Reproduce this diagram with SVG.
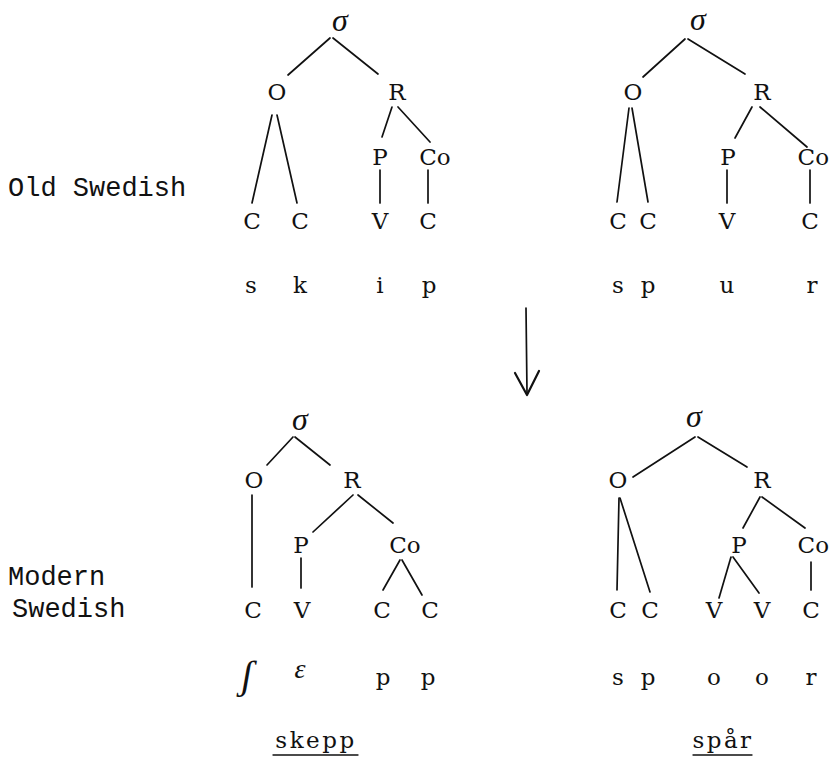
<svg xmlns="http://www.w3.org/2000/svg" width="830" height="758" viewBox="0 0 830 758">
<style>
.n{font-family:"DejaVu Serif",serif;font-size:23px;text-anchor:middle;fill:#111}
.s{font-family:"DejaVu Serif",serif;font-size:23px;text-anchor:middle;fill:#111}
.sig{font-family:"Liberation Serif",serif;font-style:italic;font-size:32px;text-anchor:middle;fill:#111}
.lbl{font-family:"Liberation Mono",monospace;font-size:27px;fill:#111}
.w{font-family:"DejaVu Serif",serif;font-size:23px;letter-spacing:2.5px;text-anchor:middle;fill:#111}
#edges line{stroke:#111;stroke-width:1.7;stroke-linecap:round;fill:none}
#edges path{stroke:#111;stroke-width:2.2;stroke-linecap:round;stroke-linejoin:round;fill:none}
</style>
<rect width="830" height="758" fill="#fff"/>

<g id="labels">
<text class="lbl" x="8" y="196">Old Swedish</text>
<text class="lbl" x="8" y="585">Modern</text>
<text class="lbl" x="12" y="617">Swedish</text>
</g>

<g id="edges">
<!-- top-left -->
<line x1="330" y1="38" x2="288" y2="75"/>
<line x1="333" y1="38" x2="378" y2="74"/>
<line x1="272" y1="115" x2="252" y2="203"/>
<line x1="277" y1="115" x2="297" y2="203"/>
<line x1="392" y1="107" x2="382" y2="137"/>
<line x1="398" y1="107" x2="430" y2="142"/>
<line x1="380" y1="170" x2="380" y2="203"/>
<line x1="428" y1="170" x2="428" y2="203"/>
<!-- top-right -->
<line x1="685" y1="39" x2="643" y2="77"/>
<line x1="688" y1="39" x2="745" y2="74"/>
<line x1="629" y1="108" x2="617" y2="202"/>
<line x1="632" y1="108" x2="648" y2="202"/>
<line x1="752" y1="107" x2="735" y2="138"/>
<line x1="760" y1="107" x2="807" y2="147"/>
<line x1="727" y1="170" x2="727" y2="203"/>
<line x1="810" y1="170" x2="810" y2="203"/>
<!-- arrow -->
<line x1="526" y1="308" x2="527" y2="393"/>
<path d="M515 373 L527 395 L539 371"/>
<!-- bottom-left -->
<line x1="293" y1="437" x2="267" y2="465"/>
<line x1="295" y1="437" x2="330" y2="465"/>
<line x1="252" y1="495" x2="252" y2="587"/>
<line x1="353" y1="495" x2="313" y2="532"/>
<line x1="358" y1="495" x2="393" y2="523"/>
<line x1="301" y1="558" x2="301" y2="588"/>
<line x1="400" y1="560" x2="383" y2="590"/>
<line x1="402" y1="560" x2="422" y2="595"/>
<!-- bottom-right -->
<line x1="695" y1="437" x2="633" y2="477"/>
<line x1="698" y1="437" x2="747" y2="467"/>
<line x1="619" y1="498" x2="617" y2="590"/>
<line x1="620" y1="498" x2="650" y2="592"/>
<line x1="760" y1="497" x2="743" y2="528"/>
<line x1="762" y1="497" x2="805" y2="528"/>
<line x1="731" y1="557" x2="719" y2="598"/>
<line x1="733" y1="557" x2="759" y2="593"/>
<line x1="811" y1="562" x2="811" y2="590"/>
<!-- underlines -->
<line x1="273" y1="755" x2="358" y2="755" style="stroke-width:1.3"/>
<line x1="693" y1="755" x2="752" y2="755" style="stroke-width:1.3"/>
</g>

<!-- top-left tree: skip -->
<g id="tl-sigma"><text class="sig" x="340" y="31">σ</text></g>
<g id="tl-O"><text class="n" x="277" y="100">O</text></g>
<g id="tl-R"><text class="n" x="397" y="100">R</text></g>
<g id="tl-P"><text class="n" x="380" y="165">P</text></g>
<g id="tl-Co"><text class="n" x="435" y="165">Co</text></g>
<g id="tl-C1"><text class="n" x="252" y="229">C</text></g>
<g id="tl-C2"><text class="n" x="300" y="229">C</text></g>
<g id="tl-V"><text class="n" x="380" y="229">V</text></g>
<g id="tl-C3"><text class="n" x="428" y="229">C</text></g>
<g id="tl-seg">
<text class="s" x="251" y="293">s</text>
<text class="s" x="300" y="293">k</text>
<text class="s" x="380" y="293">i</text>
<text class="s" x="429" y="293">p</text>
</g>

<!-- top-right tree: spur -->
<g id="tr-sigma"><text class="sig" x="698" y="30">σ</text></g>
<g id="tr-O"><text class="n" x="633" y="100">O</text></g>
<g id="tr-R"><text class="n" x="762" y="100">R</text></g>
<g id="tr-P"><text class="n" x="728" y="165">P</text></g>
<g id="tr-Co"><text class="n" x="829" y="165" style="text-anchor:end">Co</text></g>
<g id="tr-C1"><text class="n" x="618" y="229">C</text></g>
<g id="tr-C2"><text class="n" x="648" y="229">C</text></g>
<g id="tr-V"><text class="n" x="727" y="229">V</text></g>
<g id="tr-C3"><text class="n" x="810" y="229">C</text></g>
<g id="tr-seg">
<text class="s" x="618" y="293">s</text>
<text class="s" x="648" y="293">p</text>
<text class="s" x="727" y="293">u</text>
<text class="s" x="812" y="293">r</text>
</g>

<!-- bottom-left tree: skepp -->
<g id="bl-sigma"><text class="sig" x="300" y="430">σ</text></g>
<g id="bl-O"><text class="n" x="254" y="488">O</text></g>
<g id="bl-R"><text class="n" x="352" y="488">R</text></g>
<g id="bl-P"><text class="n" x="301" y="553">P</text></g>
<g id="bl-Co"><text class="n" x="405" y="553">Co</text></g>
<g id="bl-C1"><text class="n" x="253" y="618">C</text></g>
<g id="bl-V"><text class="n" x="302" y="618">V</text></g>
<g id="bl-C2"><text class="n" x="382" y="618">C</text></g>
<g id="bl-C3"><text class="n" x="430" y="618">C</text></g>
<g id="bl-seg">
<text x="247" y="688" style="font-family:'Liberation Serif',serif;font-style:italic;font-size:40px;text-anchor:middle;fill:#111">ʃ</text>
<text x="300" y="678" style="font-family:'Liberation Serif',serif;font-style:italic;font-size:28px;text-anchor:middle;fill:#111">ɛ</text>
<text class="s" x="383" y="685">p</text>
<text class="s" x="428" y="685">p</text>
</g>
<g id="bl-word"><text class="w" x="316" y="748">skepp</text></g>

<!-- bottom-right tree: spår -->
<g id="br-sigma"><text class="sig" x="694" y="427">σ</text></g>
<g id="br-O"><text class="n" x="618" y="488">O</text></g>
<g id="br-R"><text class="n" x="762" y="488">R</text></g>
<g id="br-P"><text class="n" x="739" y="553">P</text></g>
<g id="br-Co"><text class="n" x="829" y="553" style="text-anchor:end">Co</text></g>
<g id="br-C1"><text class="n" x="618" y="618">C</text></g>
<g id="br-C2"><text class="n" x="650" y="618">C</text></g>
<g id="br-V1"><text class="n" x="714" y="618">V</text></g>
<g id="br-V2"><text class="n" x="762" y="618">V</text></g>
<g id="br-C3"><text class="n" x="811" y="618">C</text></g>
<g id="br-seg">
<text class="s" x="618" y="685">s</text>
<text class="s" x="648" y="685">p</text>
<text class="s" x="714" y="685">o</text>
<text class="s" x="762" y="685">o</text>
<text class="s" x="811" y="685">r</text>
</g>
<g id="br-word"><text class="w" x="723" y="748">spår</text></g>
</svg>
